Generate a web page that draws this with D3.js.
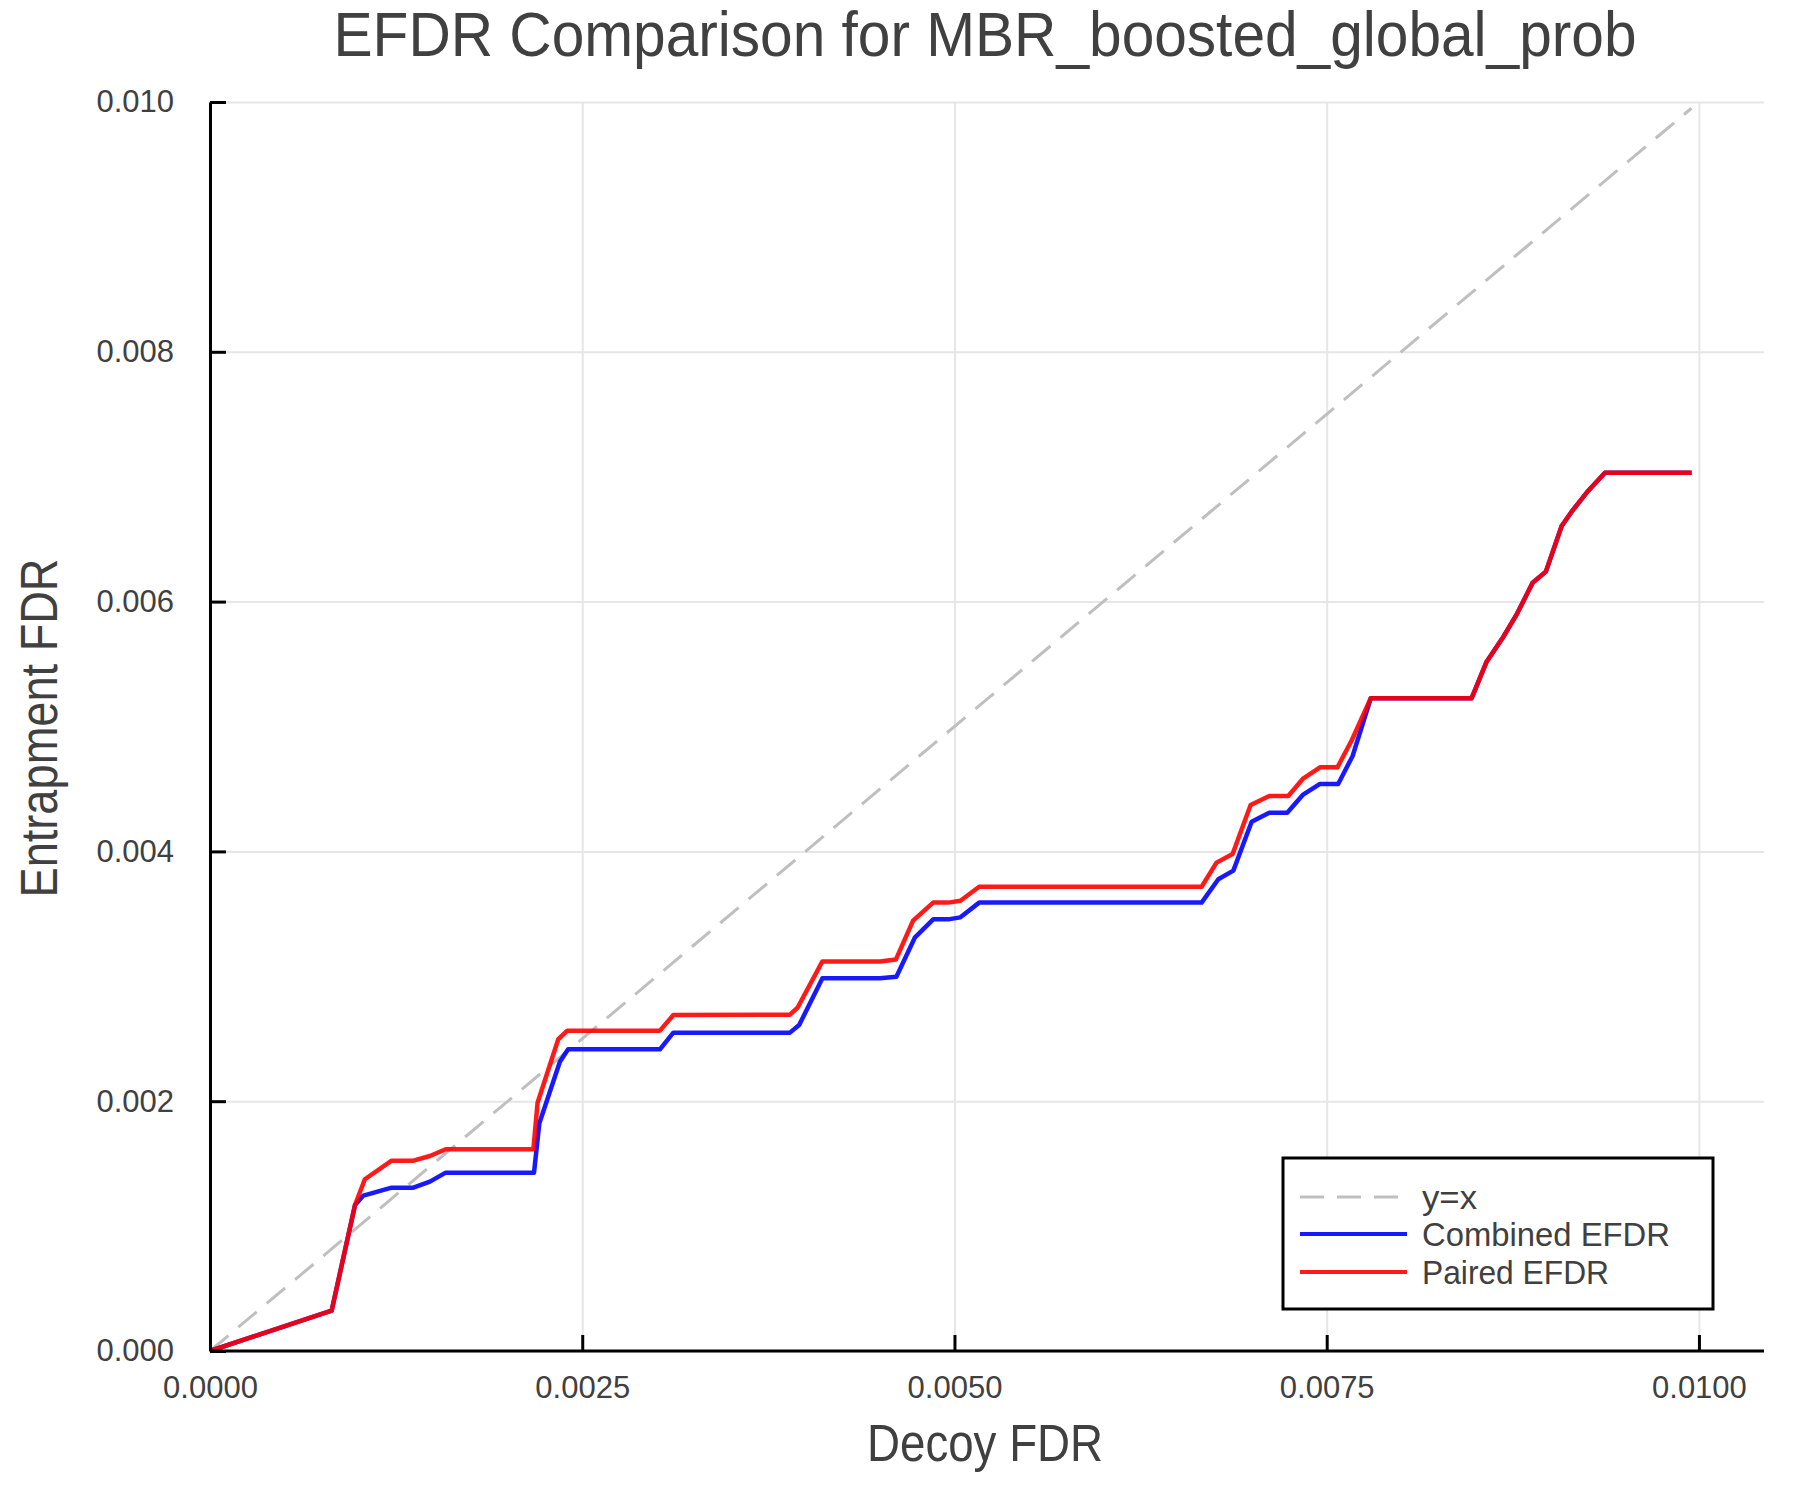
<!DOCTYPE html>
<html>
<head>
<meta charset="utf-8">
<script src="https://cdn.jsdelivr.net/npm/d3@7"></script>
<style>
  html, body { margin: 0; padding: 0; background: #ffffff; }
  svg { display: block; font-family: "Liberation Sans", Arial, Helvetica, sans-serif; }
</style>
</head>
<body>
<svg id="chart" width="1800" height="1500"></svg>
<script>
// ---------------- DATA ----------------
const titleText = "EFDR Comparison for MBR_boosted_global_prob";
const xLabelText = "Decoy FDR";
const yLabelText = "Entrapment FDR";

const xTicks = [0, 0.0025, 0.005, 0.0075, 0.01];
const xTickLabels = ["0.0000", "0.0025", "0.0050", "0.0075", "0.0100"];
const yTicks = [0, 0.002, 0.004, 0.006, 0.008, 0.01];
const yTickLabels = ["0.000", "0.002", "0.004", "0.006", "0.008", "0.010"];

const identityX = [0, 0.00995];
const identityY = [0, 0.00995];

const combinedX = [0, 0.000817, 0.000974, 0.00103, 0.00122, 0.001366, 0.001477, 0.001583, 0.002176, 0.002212,
  0.00235, 0.002405, 0.003022, 0.003112, 0.003895, 0.003957, 0.004113, 0.0045, 0.00461, 0.004735,
  0.004857, 0.004958, 0.00504, 0.005166, 0.00666, 0.006772, 0.006873, 0.006996, 0.007114, 0.007235,
  0.007339, 0.007455, 0.007577, 0.007674, 0.007796, 0.008473, 0.008574, 0.00868, 0.00878, 0.008883,
  0.008972, 0.009078, 0.009145, 0.009257, 0.009369, 0.009951];
const combinedY = [0, 0.000323, 0.001169, 0.001244, 0.001308, 0.001308, 0.001356, 0.001428, 0.001428, 0.001823,
  0.002316, 0.002415, 0.002415, 0.002549, 0.002549, 0.00261, 0.002984, 0.002984, 0.002997, 0.003312,
  0.003456, 0.003456, 0.003472, 0.00359, 0.00359, 0.003777, 0.003846, 0.004238, 0.00431, 0.00431,
  0.004452, 0.00454, 0.00454, 0.004764, 0.005226, 0.005226, 0.005519, 0.005706, 0.005906, 0.006151,
  0.00624, 0.006605, 0.00672, 0.006888, 0.007032, 0.007032];

const pairedX = [0, 0.000817, 0.000974, 0.00104, 0.00122, 0.001366, 0.001477, 0.001583, 0.002172, 0.0022,
  0.002339, 0.0024, 0.003022, 0.003112, 0.003895, 0.003946, 0.004113, 0.0045, 0.004607, 0.004722,
  0.004857, 0.004958, 0.00504, 0.005166, 0.00666, 0.00676, 0.006868, 0.006989, 0.007114, 0.007242,
  0.007339, 0.007455, 0.007572, 0.007669, 0.007796, 0.008473, 0.008574, 0.00868, 0.00878, 0.008883,
  0.008972, 0.009078, 0.009145, 0.009257, 0.009369, 0.009951];
const pairedY = [0, 0.000323, 0.001169, 0.001375, 0.001524, 0.001524, 0.001561, 0.001615, 0.001615, 0.001988,
  0.002496, 0.002565, 0.002565, 0.00269, 0.002693, 0.002748, 0.003119, 0.003119, 0.003135, 0.003446,
  0.00359, 0.00359, 0.003605, 0.003717, 0.003717, 0.00391, 0.003979, 0.004372, 0.004444, 0.004444,
  0.00458, 0.004673, 0.004673, 0.004892, 0.005226, 0.005226, 0.005519, 0.005706, 0.005906, 0.006151,
  0.00624, 0.006605, 0.00672, 0.006888, 0.007032, 0.007032];

const seriesNames = ["y=x", "Combined EFDR", "Paired EFDR"];

// ---------------- LAYOUT / STYLE ----------------
const plotLeft = 210, plotRight = 1764, plotTop = 102, plotBottom = 1351;
const textColor = "#404040";
const seriesStyles = [
  { color: "#bfbfbf", width: 3, dash: "24,13", opacity: 1 },
  { color: "#0000ff", width: 4.5, dash: null, opacity: 0.9 },
  { color: "#ff0000", width: 4.5, dash: null, opacity: 0.9 }
];

const svg = d3.select("#chart");
svg.append("rect").attr("width", 1800).attr("height", 1500).attr("fill", "#fff");

const x = d3.scaleLinear().domain([0, 0.010437]).range([plotLeft, plotRight]);
const y = d3.scaleLinear().domain([0, 0.01]).range([plotBottom, plotTop]);

// grid
const gridX = svg.append("g").attr("transform", `translate(0,${plotBottom})`)
  .call(d3.axisBottom(x).tickValues(xTicks).tickSize(-(plotBottom - plotTop)).tickFormat(""));
gridX.select(".domain").remove();
gridX.selectAll("line").attr("stroke", "#e6e6e6").attr("stroke-width", 2);

const gridY = svg.append("g").attr("transform", `translate(${plotLeft},0)`)
  .call(d3.axisLeft(y).tickValues(yTicks).tickSize(-(plotRight - plotLeft)).tickFormat(""));
gridY.select(".domain").remove();
gridY.selectAll("line").attr("stroke", "#e6e6e6").attr("stroke-width", 2);

// series
const series = [
  { xs: identityX, ys: identityY },
  { xs: combinedX, ys: combinedY },
  { xs: pairedX, ys: pairedY }
];
const line = d3.line().x(d => x(d[0])).y(d => y(d[1]));
series.forEach((s, i) => {
  const pts = s.xs.map((v, k) => [v, s.ys[k]]);
  const st = seriesStyles[i];
  const p = svg.append("path").datum(pts).attr("d", line)
    .attr("fill", "none").attr("stroke", st.color).attr("stroke-width", st.width)
    .attr("stroke-opacity", st.opacity).attr("stroke-linejoin", "round");
  if (st.dash) p.attr("stroke-dasharray", st.dash);
});

// axes
const xAxis = svg.append("g").attr("transform", `translate(0,${plotBottom})`)
  .call(d3.axisBottom(x).tickValues(xTicks).tickSizeInner(-16).tickSizeOuter(0).tickPadding(25)
    .tickFormat((d, i) => xTickLabels[i]));
const yAxis = svg.append("g").attr("transform", `translate(${plotLeft},0)`)
  .call(d3.axisLeft(y).tickValues(yTicks).tickSizeInner(-16).tickSizeOuter(0).tickPadding(36)
    .tickFormat((d, i) => yTickLabels[i]));
[xAxis, yAxis].forEach(a => {
  a.select(".domain").attr("stroke", "#000").attr("stroke-width", 3);
  a.selectAll(".tick line").attr("stroke", "#000").attr("stroke-width", 3);
  a.selectAll(".tick text").attr("fill", textColor).attr("font-size", 31)
    .attr("font-family", "Liberation Sans, Arial, sans-serif");
});
xAxis.select(".domain").attr("d", `M${plotLeft},0H${plotRight}`);

// title & labels
svg.append("text").attr("x", 985).attr("y", 56).attr("text-anchor", "middle")
  .attr("font-size", 63).attr("fill", textColor)
  .attr("textLength", 1303).attr("lengthAdjust", "spacingAndGlyphs").text(titleText);
svg.append("text").attr("x", 985).attr("y", 1461).attr("text-anchor", "middle")
  .attr("font-size", 51).attr("fill", textColor)
  .attr("textLength", 236).attr("lengthAdjust", "spacingAndGlyphs").text(xLabelText);
svg.append("text").attr("transform", "translate(57,728) rotate(-90)").attr("text-anchor", "middle")
  .attr("font-size", 51).attr("fill", textColor)
  .attr("textLength", 339).attr("lengthAdjust", "spacingAndGlyphs").text(yLabelText);

// legend
const legend = svg.append("g");
legend.append("rect").attr("x", 1283).attr("y", 1158).attr("width", 430).attr("height", 151)
  .attr("fill", "#fff").attr("stroke", "#000").attr("stroke-width", 3);
const legendRowY = [1197, 1234, 1272];
const legendTextLen = [55, 248, 187];
seriesNames.forEach((name, i) => {
  const st = seriesStyles[i];
  const l = legend.append("line").attr("x1", 1300).attr("x2", 1407)
    .attr("y1", legendRowY[i]).attr("y2", legendRowY[i])
    .attr("stroke", st.color).attr("stroke-width", st.width === 3 ? 3 : 4)
    .attr("stroke-opacity", st.opacity);
  if (st.dash) l.attr("stroke-dasharray", st.dash);
  legend.append("text").attr("x", 1422).attr("y", legendRowY[i] + 12)
    .attr("font-size", 34).attr("fill", textColor)
    .attr("textLength", legendTextLen[i]).attr("lengthAdjust", "spacingAndGlyphs")
    .text(name);
});
</script>
</body>
</html>
